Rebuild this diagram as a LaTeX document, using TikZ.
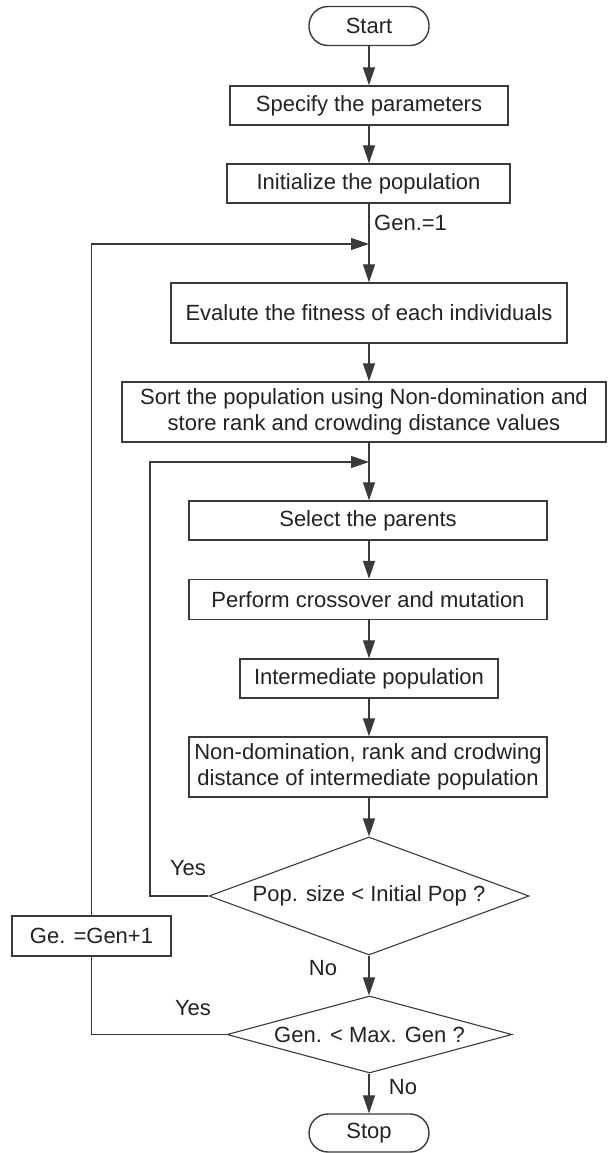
\documentclass[tikz,border=0pt]{standalone}
\usepackage{fontspec}
\setmainfont{Liberation Sans}
\usetikzlibrary{shapes.geometric,arrows.meta}
\definecolor{ln}{HTML}{3A3A3A}
\definecolor{tx}{HTML}{222222}
\begin{document}
\begin{tikzpicture}[x=1pt,y=-1pt,
  every node/.style={font=\fontsize{22}{26}\selectfont, text=tx},
  box/.style={draw=ln, line width=1.4pt, rectangle, inner sep=0pt, align=center},
  term/.style={draw=ln, line width=1.4pt, rectangle, rounded corners=19pt, inner sep=0pt, minimum width=120pt, minimum height=39pt},
  dia/.style={draw=ln, line width=1.1pt, diamond, inner sep=0pt},
  conn/.style={draw=ln, line width=1.3pt},
  arr/.style={conn, -{Triangle[length=18pt,width=12pt]}},
  lbl/.style={inner sep=0pt}
]
\useasboundingbox (0,0) rectangle (608,1153);

\node[term] (start) at (369,26) {Start};
\node[box, minimum width=278pt, minimum height=39pt] (spec) at (369,105.5) {Specify the parameters};
\node[box, minimum width=283pt, minimum height=39pt] (init) at (368.5,183.5) {Initialize the population};
\node[box, minimum width=396pt, minimum height=60pt] (eval) at (369,313) {Evalute the fitness of each individuals};
\node[box, minimum width=484pt, minimum height=60pt] (sort) at (364,412) {Sort the population using Non-domination and\\store rank and crowding distance values};
\node[box, minimum width=358pt, minimum height=39pt] (sel) at (368,520.5) {Select the parents};
\node[box, minimum width=358pt, minimum height=40pt] (perf) at (368,599.5) {Perform crossover and mutation};
\node[box, minimum width=258pt, minimum height=39pt] (inter) at (369,678.5) {Intermediate population};
\node[box, minimum width=358pt, minimum height=60pt] (nondom) at (368,767) {Non-domination, rank and crodwing\\distance of intermediate population};
\node[dia, aspect=2.71, minimum width=320pt, minimum height=118pt] (pop) at (369,896) {Pop. size < Initial Pop ?};
\node[box, minimum width=159pt, minimum height=40pt] (ge) at (91.5,936) {Ge. =Gen+1};
\node[dia, aspect=3.7, minimum width=285pt, minimum height=77pt] (gen) at (369.5,1034.5) {Gen. < Max. Gen ?};
\node[term, minimum height=38pt] (stop) at (369,1133) {Stop};

\coordinate (j1) at (369,244);
\coordinate (j2) at (369,462);
\coordinate (c2) at (150,896);

\draw[arr] (start.south) -- (spec.north);
\draw[arr] (spec.south) -- (spec.south |- init.north);
\draw[arr] (init.south -| eval.north) -- (eval.north);
\draw[arr] (eval.south) -- (eval.south |- sort.north);
\draw[arr] (eval.south |- sort.south) -- (eval.south |- sel.north);
\draw[arr] (eval.south |- sel.south) -- (eval.south |- perf.north);
\draw[arr] (eval.south |- perf.south) -- (inter.north);
\draw[arr] (inter.south) -- (inter.south |- nondom.north);
\draw[arr] (inter.south |- nondom.south) -- (pop.north);
\draw[arr] (pop.south) -- (pop.south |- gen.north);
\draw[arr] (pop.south |- gen.south) -- (pop.south |- stop.north);

\draw[conn] (gen.west) -| (ge.south);
\draw[arr] (ge.north) |- (j1);
\draw[arr] (pop.west) -- (c2) |- (j2);

\node[lbl, anchor=west] (g1) at (374,223) {Gen.=1};
\node[lbl] (y1) at (188,868) {Yes};
\node[lbl] (n1) at (323,968) {No};
\node[lbl] (y2) at (193,1008) {Yes};
\node[lbl] (n2) at (403,1087) {No};
\end{tikzpicture}
\end{document}
